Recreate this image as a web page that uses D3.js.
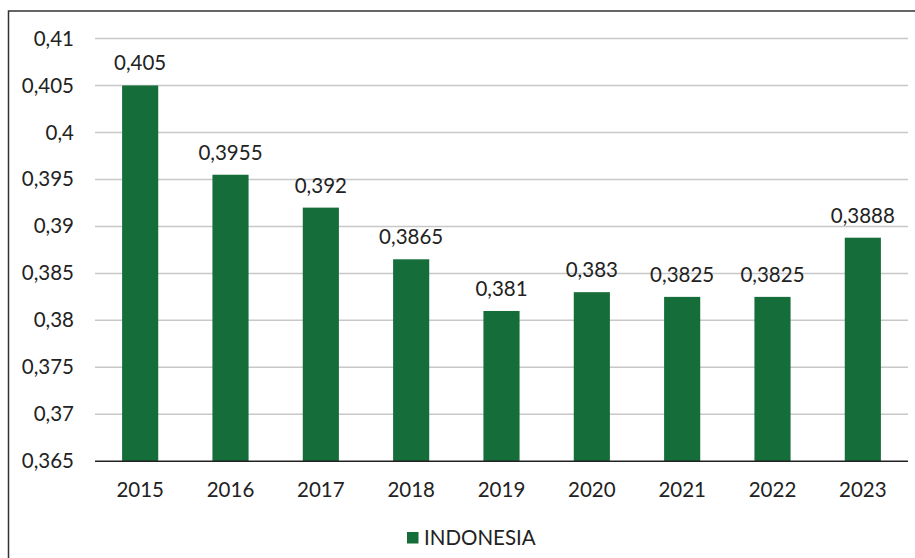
<!DOCTYPE html>
<html>
<head>
<meta charset="utf-8">
<script src="https://cdn.jsdelivr.net/npm/d3@7"></script>
<style>
  html, body { margin: 0; padding: 0; background: #fff; }
  svg { display: block; }
  text { font-family: Lato, "Open Sans", sans-serif; fill: #222; }
</style>
</head>
<body>
<svg id="chart" width="915" height="558"></svg>
<script>
// Indonesia Gini ratio by year
const years = ["2015", "2016", "2017", "2018", "2019", "2020", "2021", "2022", "2023"];
const values = [0.405, 0.3955, 0.392, 0.3865, 0.381, 0.383, 0.3825, 0.3825, 0.3888];
const tickValues = [0.365, 0.37, 0.375, 0.38, 0.385, 0.39, 0.395, 0.4, 0.405, 0.41];
const seriesName = "INDONESIA";

const fmt = v => String(+v.toFixed(4)).replace(".", ",");

const svg = d3.select("#chart");
const W = 915, H = 558;
const m = { left: 95, right: 7, top: 38.5, bottom: 96.7 };
const green = "#156d3a";
const fs = "20.5px";

// outer frame
svg.append("rect")
  .attr("x", 8.5).attr("y", 11)
  .attr("width", W + 20).attr("height", H + 20)
  .attr("fill", "none").attr("stroke", "#333").attr("stroke-width", 1.5);

const x = d3.scaleBand().domain(years)
  .range([m.left, W - m.right]).paddingInner(0.6).paddingOuter(0.3);
const y = d3.scaleLinear().domain([0.365, 0.41]).range([H - m.bottom, m.top]);

// gridlines
svg.append("g").selectAll("line").data(tickValues.slice(1)).join("line")
  .attr("x1", m.left).attr("x2", W - m.right)
  .attr("y1", d => y(d)).attr("y2", d => y(d))
  .attr("stroke", "#c8c8c8").attr("stroke-width", 1.5);

// y axis labels
const yAxis = svg.append("g")
  .attr("transform", `translate(${m.left},0)`)
  .call(d3.axisLeft(y).tickValues(tickValues).tickFormat(fmt).tickSize(0).tickPadding(21));
yAxis.select(".domain").remove();
yAxis.selectAll("text").style("font-size", fs).style("font-family", "Lato, sans-serif").attr("fill", "#222");

// bars
svg.append("g").selectAll("rect").data(values).join("rect")
  .attr("x", (d, i) => x(years[i]))
  .attr("width", x.bandwidth())
  .attr("y", d => y(d))
  .attr("height", d => y(0.365) - y(d))
  .attr("fill", green);

// value labels
svg.append("g").selectAll("text").data(values).join("text")
  .attr("x", (d, i) => x(years[i]) + x.bandwidth() / 2)
  .attr("y", d => y(d) - 15)
  .attr("text-anchor", "middle")
  .style("font-size", fs)
  .text(fmt);

// x axis
const xAxis = svg.append("g")
  .attr("transform", `translate(0,${y(0.365)})`)
  .call(d3.axisBottom(x).tickSize(0).tickPadding(21.5));
xAxis.select(".domain").attr("stroke", "#222").attr("stroke-width", 1.5)
  .attr("d", `M${m.left},0H${W - m.right}`);
xAxis.selectAll("text").style("font-size", fs).style("font-family", "Lato, sans-serif").attr("fill", "#222");

// legend
const lg = svg.append("g");
lg.append("rect").attr("x", 407).attr("y", 532).attr("width", 11.5).attr("height", 11.5).attr("fill", green);
lg.append("text").attr("x", 424).attr("y", 545).style("font-size", fs).text(seriesName);
</script>
</body>
</html>
